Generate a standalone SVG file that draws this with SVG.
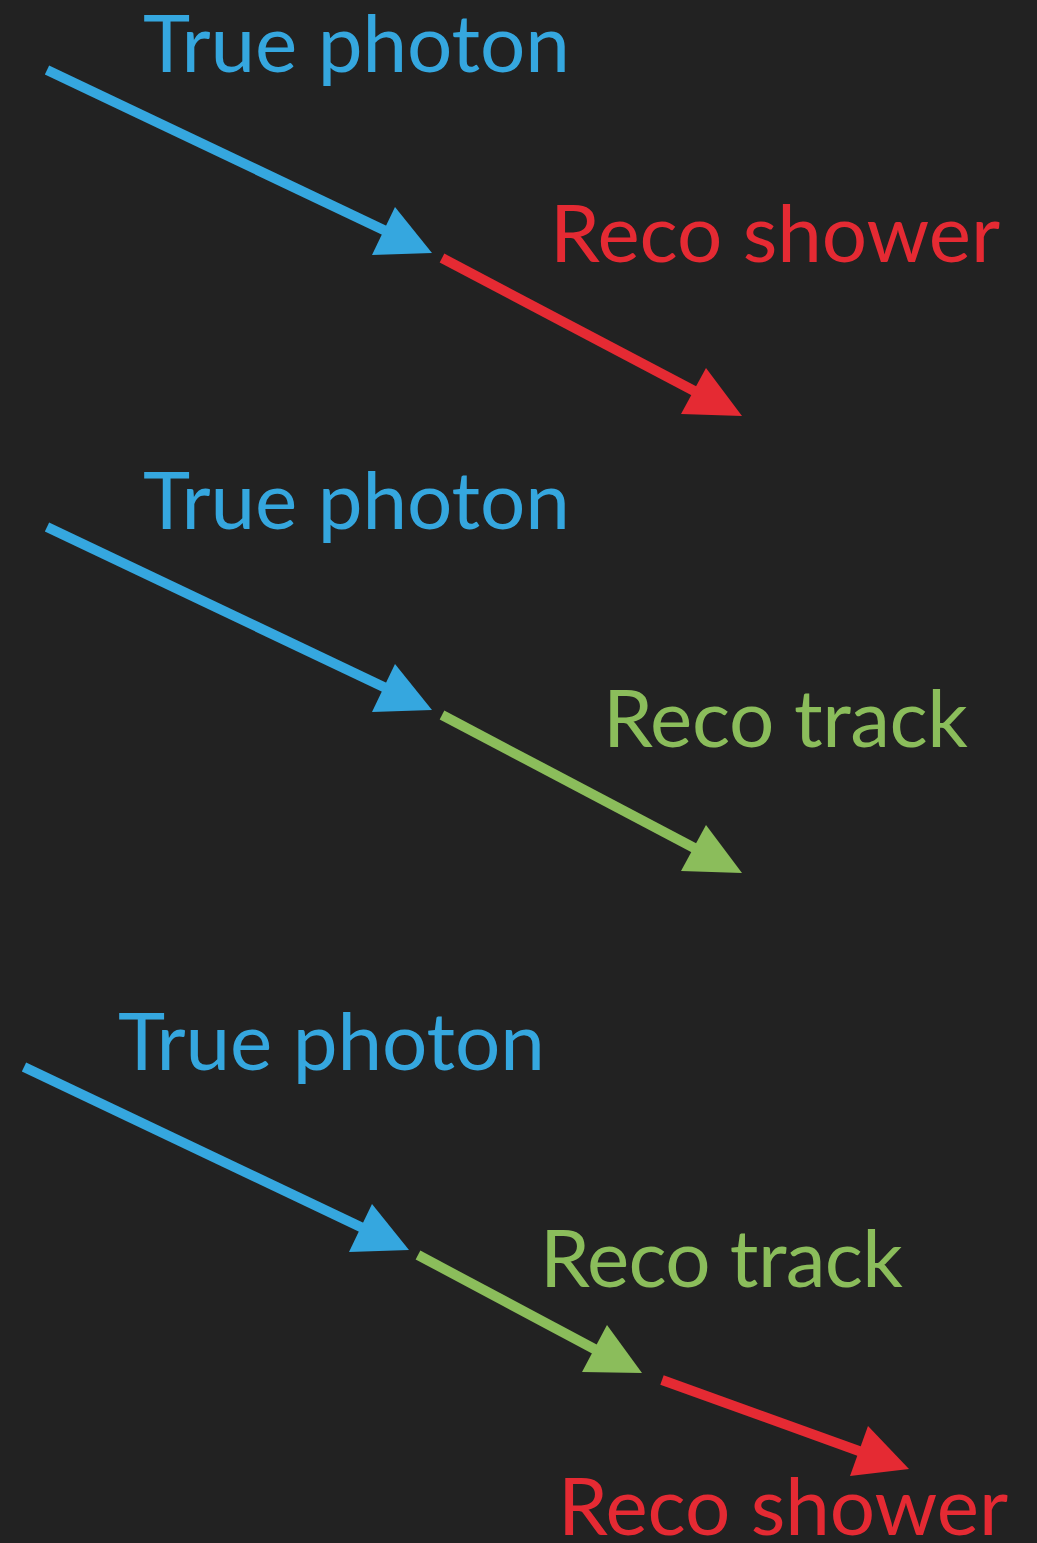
<svg xmlns="http://www.w3.org/2000/svg" width="1037" height="1543" viewBox="0 0 1037 1543">
<style>
.bg{fill:#222222}
.t{font-family:Lato,"Open Sans","Liberation Sans",sans-serif;font-size:80px}
.blue{fill:#35A7DF}.red{fill:#E52A33}.green{fill:#8BBD5B}
.lb{stroke:#35A7DF;stroke-width:10;fill:none}
.lr{stroke:#E52A33;stroke-width:10;fill:none}
.lg{stroke:#8BBD5B;stroke-width:10;fill:none}
</style>
<rect class="bg" width="1037" height="1543"/>
<g id="connectors">
<line class="lb" x1="47" y1="70" x2="390" y2="233"/>
<polygon class="blue" points="395,207 372,255 432,253"/>
<line class="lr" x1="442" y1="258" x2="700" y2="394"/>
<polygon class="red" points="706,368 681,414 742,416"/>
<line class="lb" x1="47" y1="527" x2="390" y2="690"/>
<polygon class="blue" points="395,664 372,712 432,710"/>
<line class="lg" x1="442" y1="715" x2="700" y2="851"/>
<polygon class="green" points="706,825 681,871 742,873"/>
<line class="lb" x1="24" y1="1067" x2="367" y2="1230"/>
<polygon class="blue" points="372,1204 349,1252 409,1250"/>
<line class="lg" x1="418" y1="1255" x2="600" y2="1352"/>
<polygon class="green" points="607,1325 582,1372 642,1373"/>
<line class="lr" x1="662" y1="1380" x2="870" y2="1455"/>
<polygon class="red" points="868,1426 850,1476 909,1469"/>
</g>
<g id="n1"><text class="t blue" x="143" y="72" textLength="427">True photon</text></g>
<g id="n2"><text class="t red" x="550" y="262" textLength="450">Reco shower</text></g>
<g id="n3"><text class="t blue" x="143" y="529" textLength="427">True photon</text></g>
<g id="n4"><text class="t green" x="603" y="747" textLength="365">Reco track</text></g>
<g id="n5"><text class="t blue" x="118" y="1070" textLength="427">True photon</text></g>
<g id="n6"><text class="t green" x="540" y="1287" textLength="363">Reco track</text></g>
<g id="n7"><text class="t red" x="558" y="1535" textLength="450">Reco shower</text></g>
</svg>
